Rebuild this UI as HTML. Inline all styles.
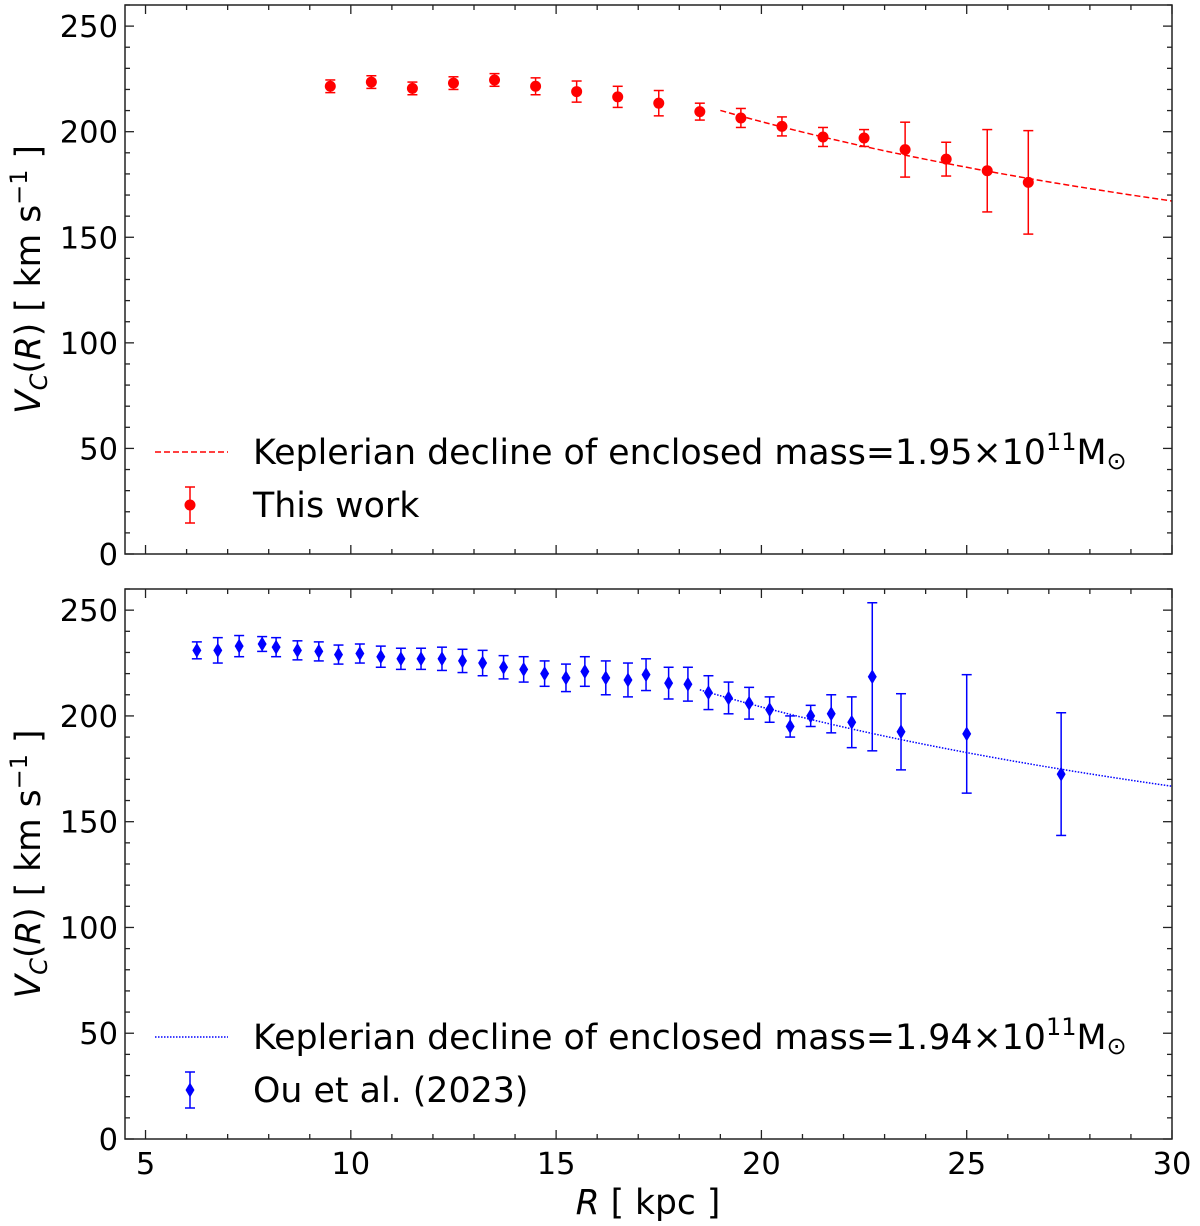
<!DOCTYPE html>
<html><head><meta charset="utf-8">
<style>
html,body{margin:0;padding:0;background:#fff;}
svg{display:block;font-family:"DejaVu Sans","Liberation Sans",sans-serif;}
</style></head>
<body>
<svg id="chart" width="1200" height="1226" viewBox="0 0 1200 1226" xmlns="http://www.w3.org/2000/svg"></svg>
<script>
const xTicks = [5, 10, 15, 20, 25, 30];
const yTicks = [0, 50, 100, 150, 200, 250];
// Top panel: This work
const topR = [9.5,10.5,11.5,12.5,13.5,14.5,15.5,16.5,17.5,18.5,19.5,20.5,21.5,22.5,23.5,24.5,25.5,26.5];
const topV = [221.5,223.5,220.5,223,224.5,221.5,219,216.5,213.5,209.5,206.5,202.5,197.5,197,191.5,187,181.5,176];
const topErr = [3,3,3,3,3,4,5,5,6,4,4.5,4.5,4.5,4,13,8,19.5,24.5];
const topMass = 1.95e11;
const topFitStart = 19;
// Bottom panel: Ou et al. (2023)
const botR = [6.25,6.76,7.28,7.84,8.18,8.70,9.22,9.70,10.22,10.73,11.22,11.71,12.22,12.72,13.21,13.72,14.21,14.72,15.24,15.70,16.21,16.75,17.19,17.74,18.21,18.71,19.2,19.7,20.2,20.7,21.2,21.7,22.2,22.7,23.4,25.0,27.3];
const botV = [231,231,233,234,232.5,231,230.5,229,229.5,228,227,227,227,226,225,223,222,220,218,221,218,217,219.5,215.5,215,211,208.5,206,203,195,200,201,197,218.5,192.5,191.5,172.5];
const botErr = [4,6,5,3.5,4.5,4.5,4.5,4.5,4.5,5,5,5,5.5,5.5,6,5.5,6,6,6.5,7,8,8,7.5,7.5,8,8,7.5,7.5,6,5,5,9,12,35,18,28,29];
const botMass = 1.94e11;
const botFitStart = 18.5;

const NS = "http://www.w3.org/2000/svg";
const svg = document.getElementById('chart');
const G = 4.30e-6;
const L = 125, R = 1172;
const xMin = 4.5, xMax = 30;
const sx = v => L + (v - xMin) / (xMax - xMin) * (R - L);
function mk(tag, attrs, parent) {
  const e = document.createElementNS(NS, tag);
  for (const k in attrs) e.setAttribute(k, attrs[k]);
  (parent || svg).appendChild(e);
  return e;
}

function panel(name, top, bottom, Rs, Vs, Es, mass, fitStart, color, marker, dash, legendLine, legendPts) {
  const yMax = 260;
  const sy = v => bottom - v / yMax * (bottom - top);
  const g = mk('g', {});
  
  
  let d = '';
  for (let r = fitStart; r <= xMax + 0.001; r += 0.1) {
    const v = Math.sqrt(G * mass / r);
    d += (d ? 'L' : 'M') + sx(r).toFixed(2) + ',' + sy(v).toFixed(2);
  }
  const curve = mk('path', {d: d, fill: 'none', stroke: color, 'stroke-width': 1.5, 'stroke-dasharray': dash}, g);
  
  
  for (let i = 0; i < Rs.length; i++) {
    const pg = mk('g', {}, g);
    
    
    const x = sx(Rs[i]), y1 = sy(Vs[i] - Es[i]), y2 = sy(Vs[i] + Es[i]), y = sy(Vs[i]);
    mk('line', {x1: x, x2: x, y1: y1, y2: y2, stroke: color, 'stroke-width': 1.5}, pg);
    mk('line', {x1: x - 5, x2: x + 5, y1: y1, y2: y1, stroke: color, 'stroke-width': 1.5}, pg);
    mk('line', {x1: x - 5, x2: x + 5, y1: y2, y2: y2, stroke: color, 'stroke-width': 1.5}, pg);
    if (marker === 'circle') mk('circle', {cx: x, cy: y, r: 5.5, fill: color}, pg);
    else mk('path', {d: `M${x},${y-7.5}L${x+4.5},${y}L${x},${y+7.5}L${x-4.5},${y}Z`, fill: color}, pg);
  }
  const fr = mk('rect', {x: L, y: top, width: R - L, height: bottom - top, fill: 'none', stroke: '#222', 'stroke-width': 1.5}, g);
  
  
  for (let v = 5; v <= 30; v++) {
    const x = sx(v), len = (v % 5 === 0) ? 9 : 5;
    mk('line', {x1: x, x2: x, y1: bottom, y2: bottom - len, stroke: '#222', 'stroke-width': 1.3}, g);
    mk('line', {x1: x, x2: x, y1: top, y2: top + len, stroke: '#222', 'stroke-width': 1.3}, g);
  }
  for (let v = 0; v <= 260; v += 10) {
    const y = sy(v), len = (v % 50 === 0) ? 9 : 5;
    mk('line', {x1: L, x2: L + len, y1: y, y2: y, stroke: '#222', 'stroke-width': 1.3}, g);
    mk('line', {x1: R, x2: R - len, y1: y, y2: y, stroke: '#222', 'stroke-width': 1.3}, g);
  }
  yTicks.forEach(v => {
    const t = mk('text', {x: L - 7, y: sy(v) + 11, 'text-anchor': 'end', 'font-size': 30.5}, g);
    t.textContent = v;
    
    
  });
  const cy = (top + bottom) / 2;
  const yl = mk('text', {x: 0, y: 0, transform: `translate(40,${cy}) rotate(-90)`, 'text-anchor': 'middle', 'font-size': 34.5}, g);
  yl.innerHTML = '<tspan font-style="italic">V</tspan><tspan font-style="italic" font-size="24" dy="7">C</tspan><tspan dy="-7">(</tspan><tspan font-style="italic">R</tspan>) [ km s<tspan font-size="24" dy="-13">−1</tspan><tspan dy="13"> ]</tspan>';
  
  
  const lg = mk('g', {}, g);
  
  
  mk('line', {x1: 155, x2: 228, y1: legendLine, y2: legendLine, stroke: color, 'stroke-width': 1.5, 'stroke-dasharray': dash}, lg);
  const t1 = mk('text', {x: 253, y: legendLine + 12, 'font-size': 34.8}, lg);
  t1.innerHTML = 'Keplerian decline of enclosed mass=' + (mass / 1e11).toFixed(2) + '×10<tspan font-size="24" dy="-14">11</tspan><tspan dy="14">M</tspan><tspan font-size="24" dy="5">⊙</tspan>';
  
  
  const lx = 190, ly = legendPts;
  mk('line', {x1: lx, x2: lx, y1: ly - 18, y2: ly + 18, stroke: color, 'stroke-width': 1.5}, lg);
  mk('line', {x1: lx - 5, x2: lx + 5, y1: ly - 18, y2: ly - 18, stroke: color, 'stroke-width': 1.5}, lg);
  mk('line', {x1: lx - 5, x2: lx + 5, y1: ly + 18, y2: ly + 18, stroke: color, 'stroke-width': 1.5}, lg);
  if (marker === 'circle') mk('circle', {cx: lx, cy: ly, r: 5.5, fill: color}, lg);
  else mk('path', {d: `M${lx},${ly-7.5}L${lx+4.5},${ly}L${lx},${ly+7.5}L${lx-4.5},${ly}Z`, fill: color}, lg);
  const t2 = mk('text', {x: 253, y: ly + 12, 'font-size': 34.8}, lg);
  t2.textContent = marker === 'circle' ? 'This work' : 'Ou et al. (2023)';
  
  
}

panel('top', 5, 554, topR, topV, topErr, topMass, topFitStart, '#ff0000', 'circle', '6,3', 452, 505);
panel('bottom', 589, 1139, botR, botV, botErr, botMass, botFitStart, '#0000ff', 'diamond', '1.5,1.5', 1037, 1090);

xTicks.forEach(v => {
  const t = mk('text', {x: sx(v), y: 1174, 'text-anchor': 'middle', 'font-size': 30.5});
  t.textContent = v;
  
  
});
const xl = mk('text', {x: 648, y: 1214, 'text-anchor': 'middle', 'font-size': 34.5});
xl.innerHTML = '<tspan font-style="italic">R</tspan> [ kpc ]';


</script>
</body></html>
